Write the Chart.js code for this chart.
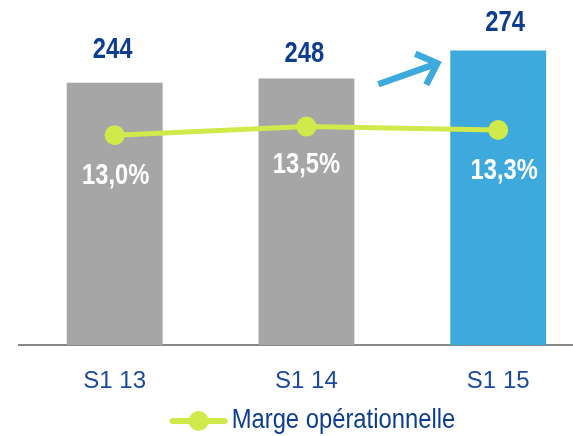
<!DOCTYPE html>
<html>
<head>
<meta charset="utf-8">
<script src="https://cdn.jsdelivr.net/npm/chart.js@4/dist/chart.umd.min.js"></script>
<style>
  html, body { margin: 0; padding: 0; background: #fff; overflow: hidden; }
</style>
</head>
<body>
<canvas id="chart" width="573" height="436"></canvas>
<script>
// data
const categories = ["S1 13", "S1 14", "S1 15"];
const resultat = [244, 248, 274];
const marge = [13.0, 13.5, 13.3];
const barColors = ["#a6a6a6", "#a6a6a6", "#3ea9dc"];
const legendLabel = "Marge opérationnelle";

const FONT = "'Liberation Sans', Arial, sans-serif";
const DARK_BLUE = "#0d3d8f";
const GREEN = "#d0ea4c";

function fmtPct(v) {
    return v.toFixed(1).replace(".", ",") + "%";
}

// no narrow font here, so squeeze the canvas text a bit (Arial Narrow look)
function narrowText(c, text, x, y, squeeze) {
    c.save();
    c.translate(x, y);
    c.scale(squeeze, 1);
    c.fillText(text, 0, 0);
    c.restore();
}

// small nudges for label placement, like in the original slide
const valueLabelDx = [-2, -2, 7];
const valueLabelDy = [-33, -24, -27];
const pctLabelDx = [1, 0, 6];
const pctLabelDy = [41, 38, 41];

const labelsPlugin = {
    id: "labels",
    afterDatasetsDraw(chart) {
        const c = chart.ctx;
        const bars = chart.getDatasetMeta(0).data;
        const pts = chart.getDatasetMeta(1).data;
        c.save();
        c.textAlign = "center";
        c.textBaseline = "middle";

        c.font = "bold 29px " + FONT;
        c.fillStyle = DARK_BLUE;
        bars.forEach((b, i) => {
            narrowText(c, String(resultat[i]), b.x + valueLabelDx[i], b.y + valueLabelDy[i], 0.82);
        });

        c.font = "bold 30px " + FONT;
        c.fillStyle = "#ffffff";
        pts.forEach((p, i) => {
            narrowText(c, fmtPct(marge[i]), p.x + pctLabelDx[i], p.y + pctLabelDy[i], 0.79);
        });

        // growth arrow between 2nd and 3rd bar
        const x = chart.scales.x, y = chart.scales.y;
        const mid = x.getPixelForValue(1.5);
        const tx = mid - 24, ty = y.getPixelForValue(242.5);
        const hx = mid + 35, hy = y.getPixelForValue(262);
        const ang = Math.atan2(hy - ty, hx - tx);
        c.strokeStyle = "#3ea9dc";
        c.lineWidth = 6.5;
        c.lineCap = "butt";
        c.lineJoin = "miter";
        c.beginPath();
        c.moveTo(tx, ty);
        c.lineTo(hx - 3 * Math.cos(ang), hy - 3 * Math.sin(ang));
        c.stroke();
        const wing = 24;
        c.beginPath();
        c.moveTo(hx - wing * Math.cos(ang - 0.75), hy - wing * Math.sin(ang - 0.75));
        c.lineTo(hx, hy);
        c.lineTo(hx - wing * Math.cos(ang + 0.75), hy - wing * Math.sin(ang + 0.75));
        c.stroke();

        // legend
        const squeeze = 0.85;
        c.font = "28px " + FONT;
        const tw = c.measureText(legendLabel).width * squeeze;
        const markW = 58, gap = 4;
        const lx = x.getPixelForValue(1) - (markW + gap + tw) / 2 + 6;
        const ly = 421;
        c.strokeStyle = GREEN;
        c.lineWidth = 6;
        c.lineCap = "round";
        c.beginPath();
        c.moveTo(lx + 3, ly);
        c.lineTo(lx + markW - 3, ly);
        c.stroke();
        c.fillStyle = GREEN;
        c.beginPath();
        c.arc(lx + markW / 2, ly, 10, 0, Math.PI * 2);
        c.fill();
        c.fillStyle = DARK_BLUE;
        c.textAlign = "left";
        narrowText(c, legendLabel, lx + markW + gap, ly - 1, squeeze);
        c.restore();
    }
};

const ctx = document.getElementById("chart");
const chartConfig = {
    type: "bar",
    data: {
        datasets: [
            {
                type: "bar",
                label: "Résultat opérationnel",
                data: resultat.map((v, i) => ({ x: i, y: v })),
                backgroundColor: barColors,
                barPercentage: 0.5,
                categoryPercentage: 1,
                yAxisID: "y",
                order: 2
            },
            {
                type: "line",
                label: legendLabel,
                data: marge.map((v, i) => ({ x: i, y: v })),
                borderColor: GREEN,
                backgroundColor: GREEN,
                borderWidth: 5,
                pointRadius: 10,
                pointHoverRadius: 10,
                pointBorderWidth: 0,
                tension: 0,
                yAxisID: "y1",
                order: 1
            }
        ]
    },
    options: {
        responsive: false,
        animation: false,
        events: [],
        layout: { autoPadding: false, padding: { top: 22.5, left: 18.8, right: 0, bottom: 37 } },
        plugins: {
            legend: { display: false },
            tooltip: { enabled: false }
        },
        scales: {
            x: {
                type: "linear",
                // last category sits near the right edge, as in the slide
                min: -0.5,
                max: 2.39,
                offset: false,
                grid: { display: false, drawTicks: false, offset: false },
                border: { display: true, color: "#888888", width: 2 },
                afterBuildTicks(scale) {
                    scale.ticks = categories.map((_, i) => ({ value: i }));
                },
                ticks: {
                    autoSkip: false,
                    color: "#1a4a9c",
                    padding: 22,
                    maxRotation: 0,
                    font: { family: FONT, size: 24 },
                    callback: (v) => categories[v]
                },
                afterFit(scale) { scale.height = 54; }
            },
            y: { display: false, min: 0, max: 300 },
            y1: { display: false, min: 0.8, max: 19.55 }
        }
    },
    plugins: [labelsPlugin]
};
const chart = new Chart(ctx, chartConfig);
</script>
</body>
</html>
